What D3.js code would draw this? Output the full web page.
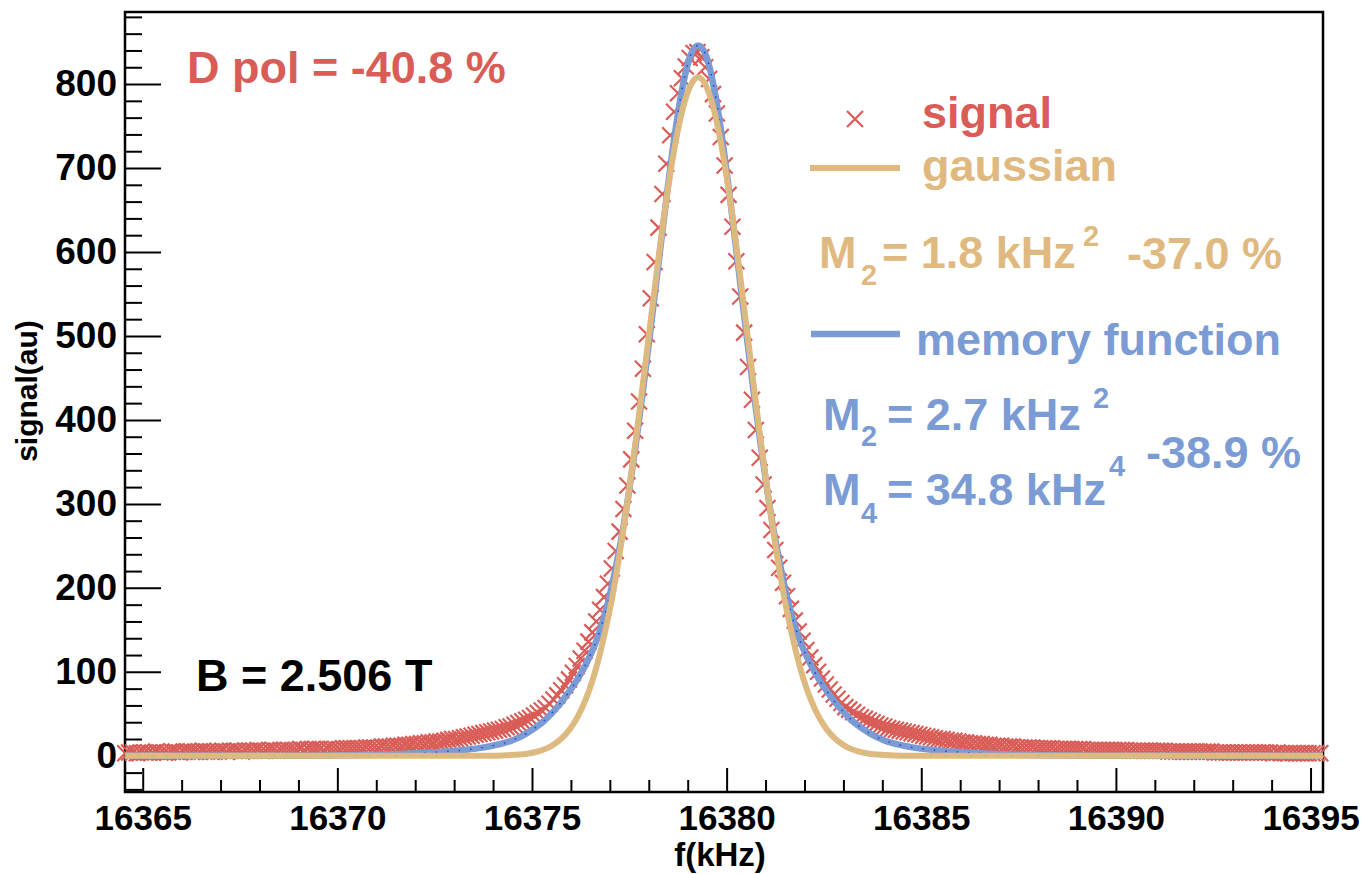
<!DOCTYPE html>
<html>
<head>
<meta charset="utf-8">
<script src="https://cdn.jsdelivr.net/npm/d3@7"></script>
<style>
  body { margin: 0; background: #fff; }
  text { font-family: "Liberation Sans", Arial, Helvetica, sans-serif; font-weight: bold; }
</style>
</head>
<body>
<svg id="chart" width="1366" height="874"></svg>
<script>
// measured signal, one point every 0.1 kHz starting at freqStart
const freqStart = 16364.55
const freqStep = 0.1
const signal = [
  3,4,4,3,4,4,4,4,5,4,4,4,
  5,5,4,5,5,5,5,5,6,5,5,5,5,6,5,
  6,6,6,5,6,6,6,7,6,6,
  7,7,6,7,7,7,7,7,8,7,
  8,8,8,8,7,8,8,8,8,9,
  9,9,9,9,9,
  10,10,10,10,
  11,11,11,12,12,12,13,13,14,14,15,15,16,16,17,17,18,19,20,20,
  21,22,23,24,25,26,27,28,29,30,31,32,34,35,37,39,41,43,45,48,
  51,54,57,62,67,72,78,84,91,99,107,116,125,136,147,160,174,189,205,223,
  244,267,294,322,353,387,422,461,502,545,588,629,669,705,739,767,789,807,821,831,837,
  838,832,820,806,788,765,737,703,668,630,
  589,547,504,463,424,388,355,323,295,269,
  245,224,206,190,175,161,148,137,126,117,
  108,100,92,85,79,73,68,63,58,55,
  52,49,46,44,42,40,38,36,35,33,
  32,31,30,29,28,27,26,25,24,23,
  22,21,20,20,19,18,18,17,16,16,
  15,15,14,14,13,13,12,12,12,11,
  11,11,10,10,10,10,10,9,9,9,
  9,9,8,8,8,8,8,8,8,8,
  7,7,7,7,7,7,7,7,7,7,
  7,6,6,6,6,6,6,6,6,6,
  6,5,5,5,5,5,5,5,5,5,
  5,5,5,4,4,4,4,4,4,4,
  4,4,4,4,4,4,4,4,3,4,
  3,3,3,3,3,3,3,3,3,3,3
]

// fitted curves
const fitFreq = [
  16364.55, 16369.27, 16370.27, 16371.27, 16371.77, 16372.27, 16372.77, 16373.27, 16373.77,
  16374.27, 16374.47, 16374.67, 16374.87, 16375.07, 16375.27, 16375.47, 16375.67, 16375.87,
  16376.07, 16376.27, 16376.47, 16376.67, 16376.87, 16377.07, 16377.27, 16377.47, 16377.67,
  16377.87, 16378.07, 16378.27, 16378.47, 16378.67, 16378.87, 16379.07, 16379.27, 16379.47,
  16379.67, 16379.87, 16380.07, 16380.27, 16380.47, 16380.67, 16380.87, 16381.07, 16381.27,
  16381.47, 16381.67, 16381.87, 16382.07, 16382.27, 16382.47, 16382.67, 16382.87, 16383.07,
  16383.27, 16383.47, 16383.67, 16383.87, 16384.07, 16384.27, 16384.77, 16385.27, 16385.77,
  16386.27, 16386.77, 16387.27, 16388.27, 16389.27, 16395.32
]
const memoryFit = [
  0, 0.2, 0.6, 1.5, 2.5, 3.5, 5, 7, 10,
  15, 18, 22, 27, 33, 40, 49, 59, 71,
  84, 99, 117, 139, 168, 206, 252, 308, 372,
  442, 517, 594, 670, 740, 797, 834, 846, 834,
  797, 740, 670, 594, 517, 442, 372, 308, 252,
  206, 168, 139, 117, 99, 84, 71, 59, 49,
  40, 33, 27, 22, 18, 15, 10, 7, 5,
  3.5, 2.5, 1.5, 0.6, 0.2, 0
]
const gaussFit = [
  0, 0, 0, 0, 0, 0, 0, 0, 0.1,
  0.5, 0.85, 1.5, 2.5, 4.2, 6.9, 11, 17.1, 25.9,
  38.4, 55.5, 78, 108, 146, 191, 246, 308, 377,
  451, 526, 600, 668, 726, 770, 798, 808, 798,
  770, 726, 668, 600, 526, 451, 377, 308, 246,
  191, 146, 108, 78, 55.5, 38.4, 25.9, 17.1, 11,
  6.9, 4.2, 2.5, 1.5, 0.85, 0.5, 0.1, 0, 0,
  0, 0, 0, 0, 0, 0
]

const xMajor = [16365, 16370, 16375, 16380, 16385, 16390, 16395]
const yMajor = [0, 100, 200, 300, 400, 500, 600, 700, 800]

const red = "#d95c57"
const tan = "#e0b980"
const blue = "#7b9bd5"

const width = 1366
const height = 874
const margin = { left: 125, right: 43, top: 12, bottom: 82 }

const svg = d3.select("#chart")

const x = d3.scaleLinear()
  .domain([16364.545, 16395.32])
  .range([margin.left, width - margin.right])

const y = d3.scaleLinear()
  .domain([-43.1, 885.8])
  .range([height - margin.bottom, margin.top])

// minor ticks
svg.append("g")
  .attr("transform", `translate(${margin.left},0)`)
  .call(d3.axisLeft(y)
    .tickValues(d3.range(-40, 881, 20).filter(v => v % 100 !== 0))
    .tickSize(-17)
    .tickFormat(""))
  .call(g => g.select(".domain").remove())
  .call(g => g.selectAll("line").attr("stroke-width", 2))

svg.append("g")
  .attr("transform", `translate(0,${height - margin.bottom})`)
  .call(d3.axisBottom(x)
    .tickValues(d3.range(16365, 16396, 1).filter(v => v % 5 !== 0))
    .tickSize(-12)
    .tickFormat(""))
  .call(g => g.select(".domain").remove())
  .call(g => g.selectAll("line").attr("stroke-width", 2))

// major ticks + labels
svg.append("g")
  .attr("transform", `translate(${margin.left},0)`)
  .call(d3.axisLeft(y)
    .tickValues(yMajor)
    .tickSize(-36)
    .tickPadding(8)
    .tickFormat(d3.format("d")))
  .call(g => g.select(".domain").remove())
  .call(g => g.selectAll("line").attr("stroke-width", 2))
  .call(g => g.selectAll("text")
    .attr("font-size", 37)
    .attr("font-family", null)
    .attr("fill", "#000"))

svg.append("g")
  .attr("transform", `translate(0,${height - margin.bottom})`)
  .call(d3.axisBottom(x)
    .tickValues(xMajor)
    .tickSize(-24)
    .tickPadding(13)
    .tickFormat(d3.format("d")))
  .call(g => g.select(".domain").remove())
  .call(g => g.selectAll("line").attr("stroke-width", 2))
  .call(g => g.selectAll("text")
    .attr("font-size", 35)
    .attr("font-family", null)
    .attr("fill", "#000"))

// frame
svg.append("rect")
  .attr("x", margin.left)
  .attr("y", margin.top)
  .attr("width", width - margin.left - margin.right)
  .attr("height", height - margin.top - margin.bottom)
  .attr("fill", "none")
  .attr("stroke", "#000")
  .attr("stroke-width", 2.5)

// axis titles
svg.append("text")
  .attr("transform", "translate(37,391) rotate(-90)")
  .attr("text-anchor", "middle")
  .attr("font-size", 30)
  .text("signal(au)")

svg.append("text")
  .attr("x", 720)
  .attr("y", 866)
  .attr("text-anchor", "middle")
  .attr("font-size", 33)
  .text("f(kHz)")

// signal crosses
const cross = "M-8,-8L8,8M-8,8L8,-8"

svg.append("g")
  .selectAll("path")
  .data(signal)
  .join("path")
  .attr("transform", (d, i) => `translate(${x(freqStart + i * freqStep)},${y(d)})`)
  .attr("d", cross)
  .attr("stroke", red)
  .attr("stroke-width", 2.2)
  .attr("fill", "none")

// fitted curves
const fitLine = vals => d3.line()
  .x((d, i) => x(fitFreq[i]))
  .y(d => y(d))
  .curve(d3.curveMonotoneX)(vals)

svg.append("path")
  .attr("d", fitLine(memoryFit))
  .attr("fill", "none")
  .attr("stroke", blue)
  .attr("stroke-width", 6.5)
  .attr("stroke-linejoin", "round")

svg.append("path")
  .attr("d", fitLine(memoryFit))
  .attr("fill", "none")
  .attr("stroke", "#2243d6")
  .attr("stroke-width", 1.5)
  .attr("stroke-dasharray", "1.5 10")

svg.append("path")
  .attr("d", fitLine(gaussFit))
  .attr("fill", "none")
  .attr("stroke", tan)
  .attr("stroke-width", 6)
  .attr("stroke-linejoin", "round")

svg.append("path")
  .attr("d", fitLine(gaussFit))
  .attr("fill", "none")
  .attr("stroke", "#86d486")
  .attr("stroke-width", 1.5)
  .attr("stroke-dasharray", "1.5 12")

// annotations
const label = (txt, px, py, size, color) => svg.append("text")
  .attr("x", px)
  .attr("y", py)
  .attr("font-size", size)
  .attr("fill", color)
  .text(txt)

label("D pol = -40.8 %", 187, 83, 45, red)
label("B = 2.506 T", 196, 691, 45, "#000")

// legend
svg.append("path")
  .attr("transform", "translate(855,119)")
  .attr("d", cross)
  .attr("stroke", red)
  .attr("stroke-width", 2.2)
  .attr("fill", "none")
label("signal", 922, 128, 45, red)

svg.append("line")
  .attr("x1", 810).attr("x2", 900)
  .attr("y1", 168).attr("y2", 168)
  .attr("stroke", tan)
  .attr("stroke-width", 6)
label("gaussian", 922, 181, 45, tan)

label("M", 819, 268, 45, tan)
label("2", 861, 285, 29, tan)
label("= 1.8 kHz", 882, 268, 45, tan)
label("2", 1083, 246, 29, tan)
label("-37.0 %", 1127, 269, 45, tan)

svg.append("line")
  .attr("x1", 811).attr("x2", 900)
  .attr("y1", 334).attr("y2", 334)
  .attr("stroke", blue)
  .attr("stroke-width", 6.5)
label("memory function", 916, 355, 45, blue)

label("M", 823, 430, 45, blue)
label("2", 861, 446, 29, blue)
label("= 2.7 kHz", 887, 430, 45, blue)
label("2", 1093, 408, 29, blue)
label("M", 823, 505, 45, blue)
label("4", 861, 523, 29, blue)
label("= 34.8 kHz", 887, 505, 45, blue)
label("4", 1109, 476, 29, blue)
label("-38.9 %", 1146, 468, 45, blue)
</script>
</body>
</html>
